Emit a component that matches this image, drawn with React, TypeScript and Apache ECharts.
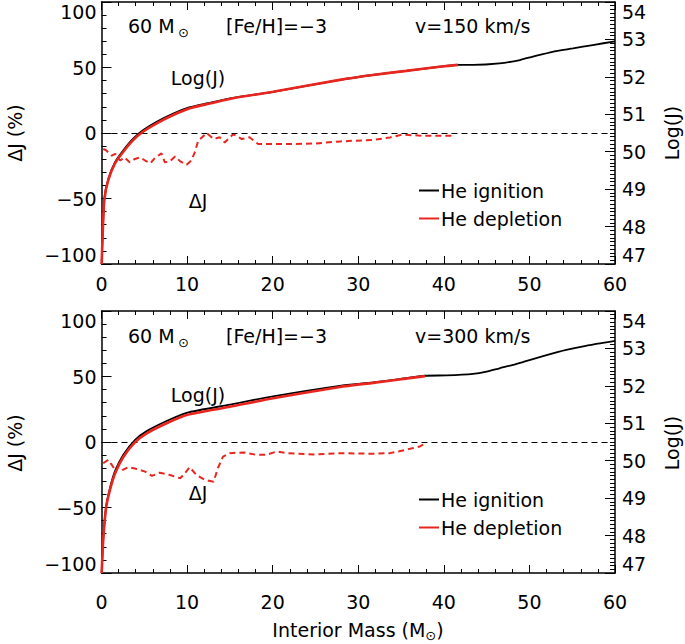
import React, { useEffect, useRef } from "react";
import * as echarts from "echarts";

// ---------- data ----------
// Top panel: v = 150 km/s
const topIgnX = [0.02, 0.14, 0.33, 0.79, 1.58, 2.55, 3.7, 4.88, 6.45, 8.38, 10.33, 12.28, 15.38, 20.05, 27.85, 31.7, 35.6, 39.5, 41.65, 43.4, 46.5, 48.9, 50.4, 52.7, 55.1, 57.4, 60];
const topIgnY = [47.0, 47.84, 48.74, 49.27, 49.72, 50.04, 50.35, 50.58, 50.8, 51.02, 51.19, 51.29, 51.44, 51.6, 51.92, 52.05, 52.16, 52.27, 52.32, 52.32, 52.36, 52.45, 52.54, 52.67, 52.76, 52.85, 52.95];
const topDepX = [0.02, 0.14, 0.33, 0.79, 1.58, 2.55, 3.7, 4.88, 6.45, 8.38, 10.33, 12.28, 15.38, 20.05, 27.85, 31.7, 35.6, 39.5, 41.65];
const topDepY = [47.0, 47.82, 48.71, 49.24, 49.69, 50.0, 50.31, 50.54, 50.76, 50.98, 51.16, 51.27, 51.43, 51.6, 51.92, 52.05, 52.16, 52.27, 52.32];
const topDJX = [0.2, 0.5, 0.8, 1.2, 1.6, 2.2, 2.7, 3.3, 3.9, 4.5, 5.1, 5.7, 6.25, 7.0, 7.4, 8.0, 8.6, 9.2, 9.95, 10.5, 10.9, 11.3, 12.3, 13.1, 13.8, 14.4, 15.4, 16.4, 17.3, 18.3, 20.5, 22, 25, 27.9, 31.7, 33.7, 35.1, 37.6, 41.3];
const topDJY = [-12.2, -13, -14.8, -17.3, -16, -21, -18.6, -22.4, -19.8, -18.6, -21, -23.2, -19, -15.6, -22.4, -21.6, -18, -21.6, -24.2, -21, -14.8, -5.9, 0, -4.6, -3.3, -7.2, -0.8, -4.6, -3.3, -8.4, -8.4, -8.4, -8, -6.4, -5.3, -3.4, -1.3, -2.1, -2.1];

// Bottom panel: v = 300 km/s
const botIgnX = [0.02, 0.2, 0.53, 0.99, 1.58, 2.55, 3.9, 5.28, 7.6, 9.95, 15, 20.05, 27.85, 31.7, 34.8, 37.8, 40.3, 43.4, 45, 46.5, 48.1, 49.6, 52, 54.3, 56.6, 60];
const botIgnY = [47.0, 47.9, 48.76, 49.27, 49.72, 50.16, 50.55, 50.79, 51.06, 51.28, 51.5, 51.72, 52.0, 52.09, 52.18, 52.27, 52.28, 52.32, 52.38, 52.47, 52.56, 52.66, 52.82, 52.96, 53.07, 53.2];
const botDepX = [0.02, 0.2, 0.53, 0.99, 1.58, 2.55, 3.9, 5.28, 7.6, 9.95, 15, 20.05, 27.85, 31.7, 34.8, 37.8];
const botDepY = [47.0, 47.88, 48.73, 49.22, 49.66, 50.1, 50.49, 50.73, 51.0, 51.22, 51.44, 51.67, 51.97, 52.08, 52.17, 52.26];
const botDJX = [0.2, 0.8, 1.2, 1.6, 2.0, 2.5, 3.1, 3.9, 4.5, 5.1, 5.9, 6.8, 8.0, 9.2, 9.75, 10.3, 11.1, 12.1, 13.1, 13.6, 14.2, 15.0, 16.6, 18.1, 19.3, 20.5, 21.6, 25, 27.9, 31.8, 33.7, 35.6, 37.2, 37.8];
const botDJY = [-16.2, -13.6, -17.5, -21.3, -17.5, -21.3, -19.2, -20.3, -21.3, -22.6, -25.9, -23.4, -25.2, -27.7, -23.8, -19.2, -25.2, -29, -30.3, -20, -11.1, -8.5, -8, -9.8, -9.8, -7.2, -8.5, -9.5, -8.5, -9, -8.5, -5.9, -3.4, -1.3];

const legendNames = ["He ignition", "He depletion"];
const panelSpeeds = ["v=150 km/s", "v=300 km/s"];
const xTitle = "Interior Mass (M";

const FONT = "DejaVu Sans";
const RED = "#e8261f";
const FS = 19;

const zip = (xs: number[], ys: number[]) => xs.map((x, i) => [x, ys[i]]);
const minusFmt = (v: number) => (v < 0 ? "\u2212" + Math.abs(v) : String(v));

function xAx(gridIndex: number, position: string, showLabels: boolean, margin: number) {
  return {
    type: "value",
    gridIndex,
    position,
    min: 0,
    max: 60,
    interval: 10,
    axisLine: { show: true, onZero: false, lineStyle: { color: "#000", width: 1.5 } },
    axisTick: { show: true, inside: true, length: 8, lineStyle: { color: "#000", width: 1 } },
    minorTick: { show: true, splitNumber: 5, length: 4, lineStyle: { color: "#000", width: 1 } },
    splitLine: { show: false },
    minorSplitLine: { show: false },
    axisLabel: { show: showLabels, margin, fontSize: FS, color: "#000", fontFamily: FONT },
  };
}

function yLeft(gridIndex: number) {
  return {
    type: "value",
    gridIndex,
    position: "left",
    min: -100,
    max: 100,
    interval: 50,
    axisLine: { show: true, onZero: false, lineStyle: { color: "#000", width: 1.5 } },
    axisTick: { show: true, inside: true, length: 10, lineStyle: { color: "#000", width: 1 } },
    minorTick: { show: true, splitNumber: 5, length: 5, lineStyle: { color: "#000", width: 1 } },
    splitLine: { show: false },
    minorSplitLine: { show: false },
    axisLabel: {
      margin: 5,
      fontSize: FS,
      color: "#000",
      fontFamily: FONT,
      formatter: minusFmt,
      verticalAlignMinLabel: "bottom",
      verticalAlignMaxLabel: "top",
    },
  };
}

function yRight(gridIndex: number) {
  return {
    type: "value",
    gridIndex,
    position: "right",
    min: 47,
    max: 54,
    interval: 1,
    axisLine: { show: true, onZero: false, lineStyle: { color: "#000", width: 1.5 } },
    axisTick: { show: true, inside: true, length: 10, lineStyle: { color: "#000", width: 1 } },
    minorTick: { show: true, splitNumber: 10, length: 5, lineStyle: { color: "#000", width: 1 } },
    splitLine: { show: false },
    minorSplitLine: { show: false },
    axisLabel: {
      margin: 7,
      fontSize: FS,
      color: "#000",
      fontFamily: FONT,
      verticalAlignMinLabel: "bottom",
      verticalAlignMaxLabel: "top",
    },
  };
}

function djSeries(xi: number, yi: number, xs: number[], ys: number[]) {
  return {
    type: "line",
    name: "ΔJ",
    xAxisIndex: xi,
    yAxisIndex: yi,
    data: zip(xs, ys),
    symbol: "none",
    showSymbol: false,
    lineStyle: { color: RED, width: 2, type: [6, 4] },
    itemStyle: { color: RED },
    z: 3,
    markLine: {
      silent: true,
      symbol: "none",
      label: { show: false },
      lineStyle: { color: "#000", width: 1.2, type: [6, 4] },
      data: [{ yAxis: 0 }],
    },
  };
}

function logSeries(name: string, xi: number, yi: number, xs: number[], ys: number[], color: string, width: number, z: number) {
  return {
    type: "line",
    name,
    xAxisIndex: xi,
    yAxisIndex: yi,
    data: zip(xs, ys),
    symbol: "none",
    showSymbol: false,
    smooth: 0.2,
    lineStyle: { color, width },
    itemStyle: { color },
    z,
  };
}

function txt(text: string, x: number, y: number, extra: any = {}) {
  return {
    type: "text",
    x,
    y,
    style: {
      text,
      fontSize: FS,
      fontFamily: FONT,
      fill: "#000",
      align: "left",
      verticalAlign: "middle",
      ...extra,
    },
  };
}

function panelGraphics(dy: number, speed: string, logY: number, djY: number) {
  return [
    txt("60 M", 128, 26 + dy),
    txt("\u2299", 178, 32 + dy, { fontSize: 13 }),
    txt("[Fe/H]=\u22123", 226, 26 + dy),
    txt(speed, 415, 26 + dy),
    txt("Log(J)", 198, logY, { align: "center" }),
    txt("\u0394J", 198, djY, { align: "center" }),
    { ...txt("\u0394J (%)", 15, 133 + dy, { align: "center" }), rotation: Math.PI / 2 },
    { ...txt("Log(J)", 672, 133 + dy, { align: "center" }), rotation: Math.PI / 2 },
  ];
}

export default function App() {
  const ref = useRef<HTMLDivElement>(null);
  useEffect(() => {
    if (!ref.current) return;
    const chart = echarts.init(ref.current, null, { renderer: "svg" });
    const legendBase = {
      orient: "vertical",
      left: 414,
      itemWidth: 20,
      itemHeight: 2,
      itemGap: 9,
      icon: "rect",
      data: legendNames,
      textStyle: { fontSize: FS, fontFamily: FONT, color: "#000", padding: [0, 0, 0, -3] },
      selectedMode: false,
    };
    chart.setOption({
      animation: false,
      backgroundColor: "#fff",
      textStyle: { fontFamily: FONT },
      grid: [
        { left: 101.5, right: 70, top: 2, height: 262 },
        { left: 101.5, right: 70, top: 311, height: 262 },
      ],
      xAxis: [xAx(0, "bottom", true, 10), xAx(0, "top", false, 0), xAx(1, "bottom", true, 19), xAx(1, "top", false, 0)],
      yAxis: [yLeft(0), yRight(0), yLeft(1), yRight(1)],
      legend: [
        { ...legendBase, top: 176 },
        { ...legendBase, top: 485 },
      ],
      series: [
        djSeries(0, 0, topDJX, topDJY),
        logSeries(legendNames[0], 0, 1, topIgnX, topIgnY, "#000", 1.8, 4),
        logSeries(legendNames[1], 0, 1, topDepX, topDepY, RED, 2.6, 5),
        djSeries(2, 2, botDJX, botDJY),
        logSeries(legendNames[0], 2, 3, botIgnX, botIgnY, "#000", 1.8, 4),
        logSeries(legendNames[1], 2, 3, botDepX, botDepY, RED, 2.6, 5),
      ],
      graphic: [
        ...panelGraphics(0, panelSpeeds[0], 78, 201),
        ...panelGraphics(310, panelSpeeds[1], 395, 493),
        {
          type: "text",
          x: 358,
          y: 630,
          style: {
            text: "{a|" + xTitle + "}{b|\u2299}{a|)}",
            align: "center",
            verticalAlign: "middle",
            fontFamily: FONT,
            fill: "#000",
            rich: {
              a: { fontSize: FS, fontFamily: FONT, fill: "#000", lineHeight: 24, verticalAlign: "middle" },
              b: { fontSize: 13, fontFamily: FONT, fill: "#000", lineHeight: 24, verticalAlign: "bottom", padding: [8, 0, 0, 0] },
            },
          },
        },
      ],
    });
    return () => chart.dispose();
  }, []);
  return <div ref={ref} style={{ position: "absolute", left: 0, top: 0, width: 685, height: 644 }} />;
}
